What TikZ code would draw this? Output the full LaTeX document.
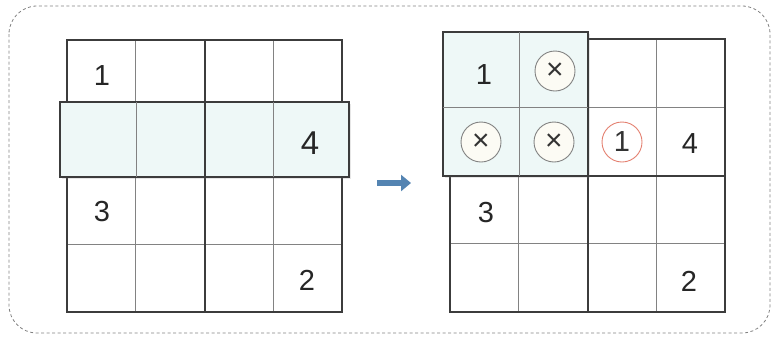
\documentclass[tikz,border=0pt]{standalone}
\usepackage{fontspec}
\setmainfont{Liberation Sans}
\usetikzlibrary{arrows.meta,positioning,calc,shadows}
\definecolor{gridline}{RGB}{60,60,60}
\definecolor{thinline}{RGB}{130,130,130}
\definecolor{lightcyan}{RGB}{238,248,247}
\definecolor{arrowblue}{RGB}{84,132,178}
\definecolor{circlefill}{RGB}{252,251,244}
\definecolor{hintred}{RGB}{228,128,112}
\tikzset{
  digit/.style={font=\fontsize{29}{29}\selectfont, text=black!85},
  crossmark/.style={circle, draw=thinline, line width=0.9pt, fill=circlefill,
    minimum size=40pt, inner sep=0pt, font=\fontsize{30}{30}\selectfont, text=black!80},
  hintmark/.style={crossmark, draw=hintred, fill=white, font=\fontsize{29}{29}\selectfont},
  popbox/.style={draw=gridline, line width=2pt, fill=lightcyan,
    drop shadow={shadow xshift=1.5pt, shadow yshift=-1.5pt, opacity=0.2}}
}
\begin{document}
\begin{tikzpicture}[x=1pt, y=-1pt, >=Stealth]
  \useasboundingbox (0,0) rectangle (774,338);
  % Frame
  \draw[thinline, line width=0.8pt, dash pattern=on 3pt off 2.5pt, rounded corners=28pt]
    (9,6) rectangle (770,333);
  % Left grid
  \foreach \c in {1,3}
    \draw[thinline, line width=1pt] (67+\c*68.75,40) -- ++(0,272);
  \foreach \r in {1,3}
    \draw[thinline, line width=1pt] (67,40+\r*68) -- ++(275,0);
  \draw[gridline, line width=2pt] (204.5,40) -- (204.5,312);
  \draw[gridline, line width=2pt] (67,176) -- (342,176);
  \draw[gridline, line width=2pt] (67,40) rectangle (342,312);
  % Highlighted row
  \draw[popbox] (60,102) rectangle (349,177);
  \foreach \x in {136,273}
    \draw[thinline, line width=1pt] (\x,102) -- (\x,177);
  \draw[gridline, line width=2pt] (204.5,102) -- (204.5,177);
  % Left digits
  \node[digit] (l11) at (102,76) {1};
  \node[digit, font=\fontsize{33}{33}\selectfont] (l24) at (310,143) {4};
  \node[digit] (l31) at (102,212) {3};
  \node[digit] (l44) at (307,280) {2};
  % Arrow
  \coordinate (arrowtail) at (377,183);
  \coordinate (arrowhead) at (411,183);
  \draw[arrowblue, line width=6pt, -{Triangle[length=10pt, width=16pt]}] (arrowtail) -- (arrowhead);
  % Right grid
  \foreach \c in {1,3}
    \draw[thinline, line width=1pt] (450+\c*68.75,39) -- ++(0,273);
  \foreach \r in {1,3}
    \draw[thinline, line width=1pt] (450,39+\r*68.25) -- ++(275,0);
  \draw[gridline, line width=2pt] (587.5,39) -- (587.5,312);
  \draw[gridline, line width=2pt] (450,175.5) -- (725,175.5);
  \draw[gridline, line width=2pt] (450,39) rectangle (725,312);
  % Highlighted block
  \draw[popbox] (443,32) rectangle (588,176);
  \draw[thinline, line width=1pt] (519,32) -- (519,176);
  \draw[thinline, line width=1pt] (443,107.5) -- (588,107.5);
  % Right digits and marks
  \node[digit] (r11) at (484,75) {1};
  \node[crossmark] (r12) at (555,71) {×};
  \node[crossmark] (r21) at (481,142) {×};
  \node[crossmark] (r22) at (554,142) {×};
  \node[hintmark] (r23) at (622,142) {1};
  \node[digit] (r24) at (690,144) {4};
  \node[digit] (r31) at (486,213) {3};
  \node[digit] (r44) at (689,281) {2};
\end{tikzpicture}
\end{document}
